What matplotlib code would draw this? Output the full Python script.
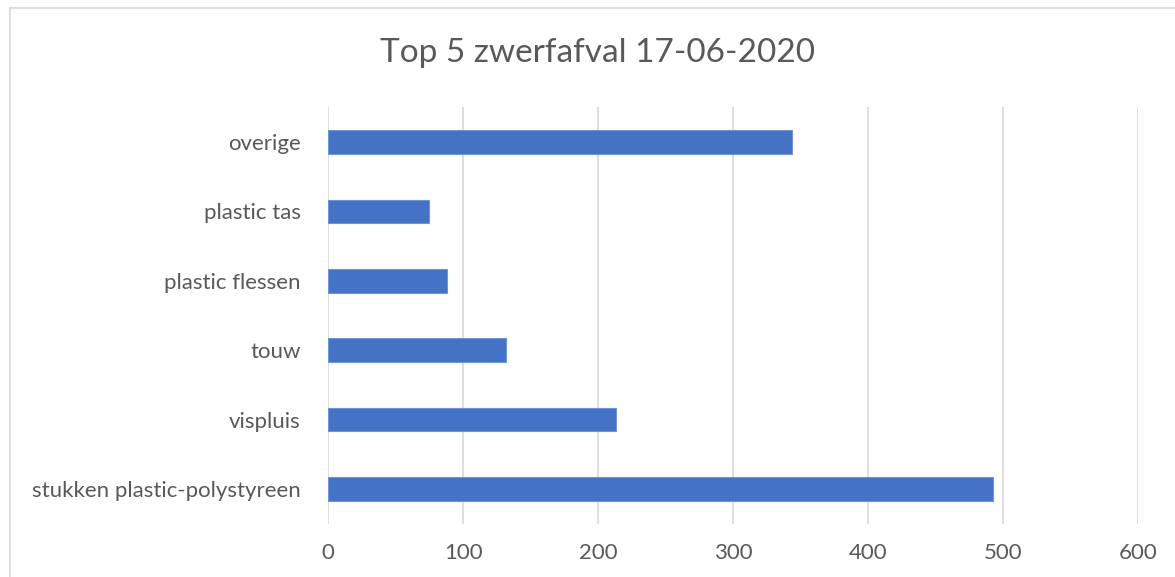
import matplotlib
matplotlib.use("Agg")
import matplotlib.pyplot as plt
from matplotlib.lines import Line2D

categories = ["stukken plastic-polystyreen", "vispluis", "touw",
              "plastic flessen", "plastic tas", "overige"]
values = [493, 213, 132, 88, 75, 344]
x_ticks = [0, 100, 200, 300, 400, 500, 600]
title = "Top 5 zwerfafval 17-06-2020"

plt.rcParams['font.family'] = ['Lato', 'DejaVu Sans']

W, H = 1175, 577
fig = plt.figure(figsize=(W / 100, H / 100), dpi=100)
fig.patch.set_facecolor("white")

left, right = 328.3 / W, 1137.7 / W
top, bottom = 1 - 107.3 / H, 1 - 523.7 / H
ax = fig.add_axes([left, bottom, right - left, top - bottom])

ypos = list(range(len(categories)))
ax.barh(ypos, values, height=0.34, color="#4472C4",
        edgecolor="#6f95d6", linewidth=0.8, zorder=3)

ax.set_xlim(0, 600)
ax.set_ylim(-0.5, len(categories) - 0.5)
ax.set_xticks(x_ticks)
ax.set_xticklabels([str(t) for t in x_ticks])
ax.set_yticks(ypos)
ax.set_yticklabels(categories)

ax.grid(axis="x", color="#d9d9d9", linewidth=1.2, zorder=0)
ax.set_axisbelow(True)
for s in ax.spines.values():
    s.set_visible(False)
ax.tick_params(axis="both", length=0, labelsize=16, labelcolor="#595959")
ax.tick_params(axis="x", pad=14)
ax.tick_params(axis="y", pad=20)

fig.text(598 / W, 1 - 62 / H, title, ha="center", va="baseline",
         fontsize=24, color="#595959")

# chart area border (left and top visible)
fig.add_artist(Line2D([10 / W, 10 / W], [0, 1 - 8 / H], transform=fig.transFigure,
                      color="#d9d9d9", linewidth=1.2))
fig.add_artist(Line2D([10 / W, 1], [1 - 8 / H, 1 - 8 / H], transform=fig.transFigure,
                      color="#d9d9d9", linewidth=1.2))

fig.savefig("out.png", dpi=100, facecolor="white")
